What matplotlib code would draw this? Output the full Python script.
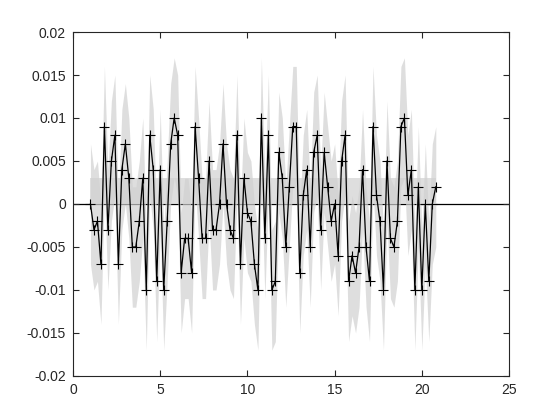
import numpy as np
import matplotlib
matplotlib.use('Agg')
import matplotlib.pyplot as plt

plt.rcParams['font.family'] = ['Liberation Sans', 'DejaVu Sans']

# lags 1 .. 20.8 in steps of 0.2
x = [1.0 + 0.2 * i for i in range(100)]

values = [
    0, -0.003, -0.002, -0.007, 0.009, -0.003, 0.005, 0.008, -0.007, 0.004,
    0.007, 0.003, -0.005, -0.005, -0.002, 0.003, -0.010, 0.008, 0.004, -0.009,
    0.004, -0.010, -0.002, 0.007, 0.010, 0.008, -0.008, -0.004, -0.004, -0.008,
    0.009, 0.003, -0.004, -0.004, 0.005, -0.003, -0.003, 0, 0.007, 0,
    -0.003, -0.004, 0.008, -0.007, 0.003, -0.001, -0.002, -0.007, -0.010, 0.010,
    -0.004, 0.008, -0.010, -0.009, 0.006, 0.003, -0.005, 0.002, 0.009, 0.009,
    -0.008, 0.001, 0.004, -0.005, 0.006, 0.008, -0.003, 0.006, 0.002, -0.002,
    0, -0.006, 0.005, 0.008, -0.009, -0.006, -0.008, -0.005, 0.004, -0.005,
    -0.009, 0.009, 0.001, -0.002, -0.010, 0.005, -0.004, -0.005, -0.002, 0.009,
    0.010, 0.001, 0.004, -0.010, 0.002, -0.010, 0, -0.009, 0, 0.002,
]

half_width = 0.007   # spread of the grey band around the values
strip_top = 0.003    # small shaded strip above zero

x = np.array(x)
values = np.array(values)

fig = plt.figure(figsize=(5.6, 4.2), dpi=100)
ax = fig.add_axes([0.1304, 0.1048, 0.7786, 0.819])

band_col = (0.82, 0.82, 0.82)
ax.plot([0, 25], [0, 0], color='black', linewidth=0.9, zorder=1)
ax.fill_between(x, values - half_width, values + half_width,
                color=band_col, alpha=0.7, linewidth=0, zorder=2)
ax.fill_between(x, 0, strip_top,
                color=band_col, alpha=0.7, linewidth=0, zorder=2)
ax.plot(x, values, color='black', linewidth=0.9, marker='+',
        markersize=6.5, markeredgewidth=0.8, zorder=3)

ax.set_xlim(0, 25)
ax.set_ylim(-0.02, 0.02)
ax.set_xticks([0, 5, 10, 15, 20, 25])
yt = [-0.02, -0.015, -0.01, -0.005, 0, 0.005, 0.01, 0.015, 0.02]
ax.set_yticks(yt)
ax.set_yticklabels(['-0.02', '-0.015', '-0.01', '-0.005', '0',
                    '0.005', '0.01', '0.015', '0.02'])

axis_col = (0.15, 0.15, 0.15)
for s in ax.spines.values():
    s.set_color(axis_col)
    s.set_linewidth(0.8)
ax.tick_params(direction='in', length=4, width=0.8, colors=axis_col,
               labelsize=10, top=True, right=True, pad=5)

fig.savefig('out.png', dpi=100)
